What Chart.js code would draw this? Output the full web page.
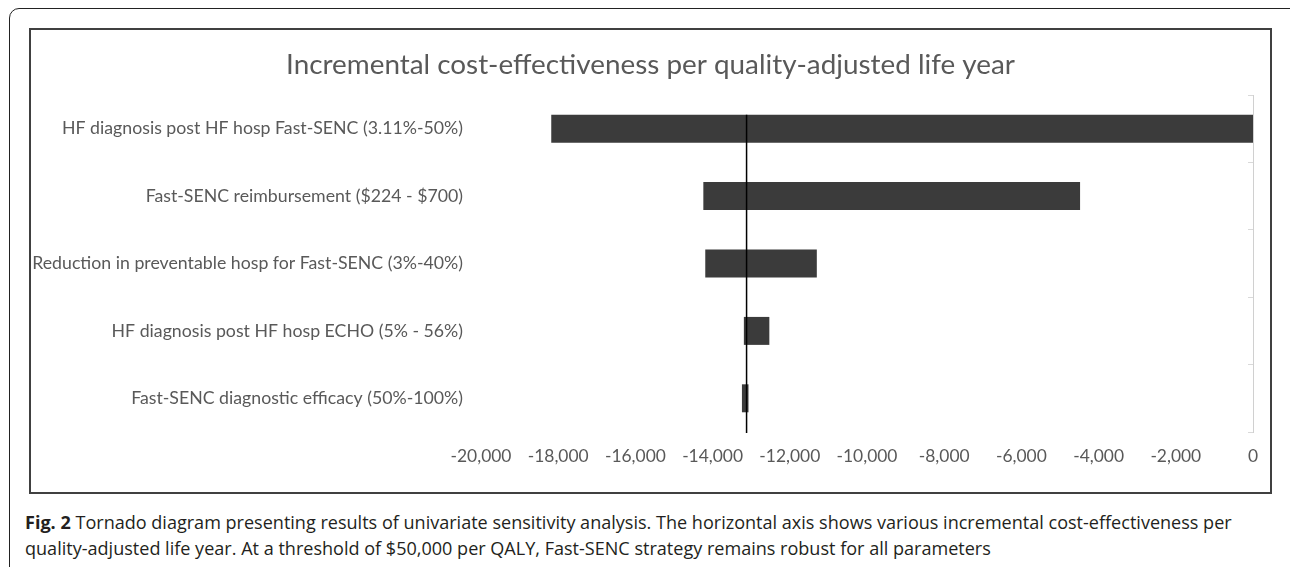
<!DOCTYPE html>
<html>
<head>
<meta charset="utf-8">
<script src="https://cdn.jsdelivr.net/npm/chart.js@4.4.1/dist/chart.umd.min.js"></script>
<style>
  body { margin: 0; background: #fff; width: 1290px; height: 567px; overflow: hidden; position: relative; }
  #outer { position: absolute; left: 9px; top: 8px; width: 1300px; height: 580px; border: 1.5px solid #222; border-radius: 10px; box-sizing: border-box; }
  #inner { position: absolute; left: 29px; top: 28px; width: 1243px; height: 466px; border: 2px solid #404040; box-sizing: border-box; }
  #chart { position: absolute; left: 29px; top: 28px; }
  .cap { position: absolute; left: 25px; font-family: "Open Sans", sans-serif; font-size: 16px; color: #231f20; white-space: nowrap; line-height: 24px; }
  .cap b { font-weight: 700; }
</style>
</head>
<body>
<div id="outer"></div>
<div id="inner"></div>
<canvas id="chart" width="1243" height="466"></canvas>
<div class="cap" id="cap1" style="top:510px"><b>Fig. 2</b> Tornado diagram presenting results of univariate sensitivity analysis. The horizontal axis shows various incremental cost-effectiveness per</div>
<div class="cap" id="cap2" style="top:536px">quality-adjusted life year. At a threshold of $50,000 per QALY, Fast-SENC strategy remains robust for all parameters</div>
<script>
// parámetros del análisis de sensibilidad
const categorias = [
    'HF diagnosis post HF hosp Fast-SENC (3.11%-50%)',
    'Fast-SENC reimbursement ($224 - $700)',
    'Reduction in preventable hosp for Fast-SENC (3%-40%)',
    'HF diagnosis post HF hosp ECHO (5% - 56%)',
    'Fast-SENC diagnostic efficacy (50%-100%)'
];
const valoresBajos = [-18180, -14240, -14190, -13190, -13240];
const valoresAltos = [0, -4480, -11300, -12530, -13070];
const caseBase = -13120;
const ejeMin = -20000;
const ejeMax = 0;
const ejePaso = 2000;

const titulo = 'Incremental cost-effectiveness per quality-adjusted life year';
const gris = '#595959';
const fuente = 'Lato, "Open Sans", sans-serif';

// tamaño de letra para que un texto ocupe el ancho medido en la figura
function tamanoPara(texto, ancho) {
    const ctx = document.createElement('canvas').getContext('2d');
    ctx.font = '100px ' + fuente;
    return 100 * ancho / ctx.measureText(texto).width;
}
const tamTitulo = tamanoPara(titulo, 729);
const tamEtiquetas = tamanoPara(categorias[2], 431);
const tamEje = tamanoPara('-20,000', 61);

// pie de figura: ajustar la primera línea a su ancho
const cap1 = document.getElementById('cap1');
const tamPie = 16 * 1207 / cap1.getBoundingClientRect().width;
document.querySelectorAll('.cap').forEach(el => el.style.fontSize = tamPie + 'px');

// línea vertical del caso base, encima de las barras
const lineaBase = {
    id: 'lineaBase',
    afterDatasetsDraw(chart) {
        const x = chart.scales.x.getPixelForValue(caseBase);
        const barra = chart.getDatasetMeta(0).data[0];
        const top = barra.y - barra.height / 2;
        const ctx = chart.ctx;
        ctx.save();
        ctx.strokeStyle = '#000';
        ctx.lineWidth = 1.5;
        ctx.beginPath();
        ctx.moveTo(x, top);
        ctx.lineTo(x, chart.chartArea.bottom + 1);
        ctx.stroke();
        ctx.restore();
    }
};

const alturaTitulo = tamTitulo * 1.2;
const padTop = 37 - alturaTitulo / 2;

new Chart(document.getElementById('chart'), {
    type: 'bar',
    data: {
        labels: categorias,
        datasets: [{
            data: valoresBajos.map((v, i) => [v, valoresAltos[i]]),
            backgroundColor: '#3b3b3b',
            borderWidth: 0,
            categoryPercentage: 1,
            barPercentage: 0.415
        }]
    },
    options: {
        indexAxis: 'y',
        responsive: false,
        animation: false,
        locale: 'en-US',
        layout: { padding: 0 },
        plugins: {
            legend: { display: false },
            tooltip: { enabled: false },
            title: {
                display: true,
                text: titulo,
                color: gris,
                font: { family: fuente, size: tamTitulo, weight: 'normal', lineHeight: 1.2 },
                padding: { top: padTop, bottom: 67 - padTop - alturaTitulo }
            }
        },
        scales: {
            x: {
                type: 'linear',
                min: ejeMin,
                max: ejeMax,
                ticks: { stepSize: ejePaso, color: gris, padding: 24 - tamEje * 0.6, font: { family: fuente, size: tamEje, lineHeight: 1.2 } },
                grid: { display: false, drawTicks: false },
                border: { display: false },
                afterFit(scale) { scale.height = 62; }
            },
            y: {
                type: 'category',
                position: 'left',
                ticks: { color: gris, padding: 18, font: { family: fuente, size: tamEtiquetas } },
                grid: { display: false, drawTicks: false },
                border: { display: false },
                afterFit(scale) { scale.width = 452; }
            },
            y2: {
                type: 'category',
                position: 'right',
                offset: true,
                ticks: { display: false },
                grid: { drawOnChartArea: false, offset: true, tickLength: -5, color: '#d9d9d9' },
                border: { display: true, color: '#d0d0d0', width: 1 },
                afterFit(scale) { scale.width = 19; }
            }
        }
    },
    plugins: [lineaBase]
});
</script>
</body>
</html>
